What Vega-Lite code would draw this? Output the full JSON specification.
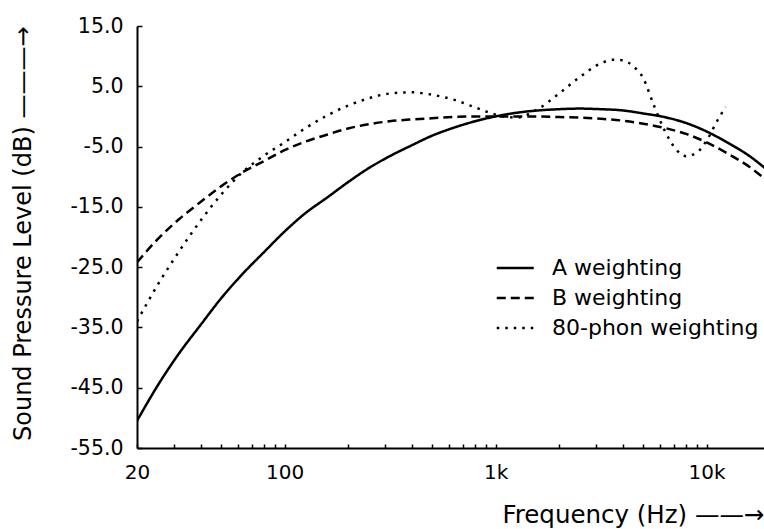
{
  "$schema": "https://vega.github.io/schema/vega-lite/v6.json",
  "width": 627,
  "height": 422,
  "autosize": {"type": "none"},
  "padding": {"left": 137, "top": 26, "right": 0, "bottom": 81},
  "background": "white",
  "config": {
    "view": {"stroke": null},
    "font": "DejaVu Sans",
    "axis": {"grid": false, "domainColor": "black", "domainWidth": 2, "tickColor": "black", "tickWidth": 1.5, "labelColor": "black", "titleColor": "black", "labelFont": "DejaVu Sans", "titleFont": "DejaVu Sans", "titleFontWeight": "normal"},
    "legend": {"padding": 0, "offset": 0}
  },
  "data": {
    "values": [
      {"curve": "A weighting", "f": 20, "db": -50.5},
      {"curve": "A weighting", "f": 25, "db": -44.7},
      {"curve": "A weighting", "f": 31.5, "db": -39.4},
      {"curve": "A weighting", "f": 40, "db": -34.6},
      {"curve": "A weighting", "f": 50, "db": -30.2},
      {"curve": "A weighting", "f": 63, "db": -26.2},
      {"curve": "A weighting", "f": 80, "db": -22.5},
      {"curve": "A weighting", "f": 100, "db": -19.1},
      {"curve": "A weighting", "f": 125, "db": -16.1},
      {"curve": "A weighting", "f": 160, "db": -13.4},
      {"curve": "A weighting", "f": 200, "db": -10.9},
      {"curve": "A weighting", "f": 250, "db": -8.6},
      {"curve": "A weighting", "f": 315, "db": -6.6},
      {"curve": "A weighting", "f": 400, "db": -4.8},
      {"curve": "A weighting", "f": 500, "db": -3.2},
      {"curve": "A weighting", "f": 630, "db": -1.9},
      {"curve": "A weighting", "f": 800, "db": -0.8},
      {"curve": "A weighting", "f": 1000, "db": 0},
      {"curve": "A weighting", "f": 1250, "db": 0.6},
      {"curve": "A weighting", "f": 1600, "db": 1.0},
      {"curve": "A weighting", "f": 2000, "db": 1.2},
      {"curve": "A weighting", "f": 2500, "db": 1.3},
      {"curve": "A weighting", "f": 3150, "db": 1.2},
      {"curve": "A weighting", "f": 4000, "db": 1.0},
      {"curve": "A weighting", "f": 5000, "db": 0.5},
      {"curve": "A weighting", "f": 6300, "db": -0.1},
      {"curve": "A weighting", "f": 8000, "db": -1.1},
      {"curve": "A weighting", "f": 10000, "db": -2.5},
      {"curve": "A weighting", "f": 12500, "db": -4.3},
      {"curve": "A weighting", "f": 16000, "db": -6.6},
      {"curve": "A weighting", "f": 20000, "db": -9.3},
      {"curve": "B weighting", "f": 20, "db": -24.2},
      {"curve": "B weighting", "f": 25, "db": -20.4},
      {"curve": "B weighting", "f": 31.5, "db": -17.1},
      {"curve": "B weighting", "f": 40, "db": -14.2},
      {"curve": "B weighting", "f": 50, "db": -11.6},
      {"curve": "B weighting", "f": 63, "db": -9.3},
      {"curve": "B weighting", "f": 80, "db": -7.4},
      {"curve": "B weighting", "f": 100, "db": -5.6},
      {"curve": "B weighting", "f": 125, "db": -4.2},
      {"curve": "B weighting", "f": 160, "db": -3.0},
      {"curve": "B weighting", "f": 200, "db": -2.0},
      {"curve": "B weighting", "f": 250, "db": -1.3},
      {"curve": "B weighting", "f": 315, "db": -0.8},
      {"curve": "B weighting", "f": 400, "db": -0.5},
      {"curve": "B weighting", "f": 500, "db": -0.3},
      {"curve": "B weighting", "f": 630, "db": -0.1},
      {"curve": "B weighting", "f": 800, "db": 0},
      {"curve": "B weighting", "f": 1000, "db": 0},
      {"curve": "B weighting", "f": 1250, "db": 0},
      {"curve": "B weighting", "f": 1600, "db": 0},
      {"curve": "B weighting", "f": 2000, "db": -0.1},
      {"curve": "B weighting", "f": 2500, "db": -0.2},
      {"curve": "B weighting", "f": 3150, "db": -0.4},
      {"curve": "B weighting", "f": 4000, "db": -0.7},
      {"curve": "B weighting", "f": 5000, "db": -1.2},
      {"curve": "B weighting", "f": 6300, "db": -1.9},
      {"curve": "B weighting", "f": 8000, "db": -2.9},
      {"curve": "B weighting", "f": 10000, "db": -4.3},
      {"curve": "B weighting", "f": 12500, "db": -6.1},
      {"curve": "B weighting", "f": 16000, "db": -8.4},
      {"curve": "B weighting", "f": 20000, "db": -11.1},
      {"curve": "80-phon weighting", "f": 20, "db": -34},
      {"curve": "80-phon weighting", "f": 25, "db": -28},
      {"curve": "80-phon weighting", "f": 31.5, "db": -22.5},
      {"curve": "80-phon weighting", "f": 40, "db": -17.3},
      {"curve": "80-phon weighting", "f": 50, "db": -13},
      {"curve": "80-phon weighting", "f": 63, "db": -9.3},
      {"curve": "80-phon weighting", "f": 80, "db": -6.5},
      {"curve": "80-phon weighting", "f": 100, "db": -4.3},
      {"curve": "80-phon weighting", "f": 125, "db": -2},
      {"curve": "80-phon weighting", "f": 160, "db": 0.2},
      {"curve": "80-phon weighting", "f": 200, "db": 1.8},
      {"curve": "80-phon weighting", "f": 250, "db": 3.0},
      {"curve": "80-phon weighting", "f": 315, "db": 3.8},
      {"curve": "80-phon weighting", "f": 400, "db": 4.0},
      {"curve": "80-phon weighting", "f": 500, "db": 3.6},
      {"curve": "80-phon weighting", "f": 630, "db": 2.8},
      {"curve": "80-phon weighting", "f": 800, "db": 1.5},
      {"curve": "80-phon weighting", "f": 1000, "db": 0.3},
      {"curve": "80-phon weighting", "f": 1250, "db": -0.2},
      {"curve": "80-phon weighting", "f": 1600, "db": 1.3},
      {"curve": "80-phon weighting", "f": 2000, "db": 3.8},
      {"curve": "80-phon weighting", "f": 2500, "db": 6.5},
      {"curve": "80-phon weighting", "f": 3150, "db": 8.8},
      {"curve": "80-phon weighting", "f": 3600, "db": 9.4},
      {"curve": "80-phon weighting", "f": 4000, "db": 9.3},
      {"curve": "80-phon weighting", "f": 4500, "db": 8.3},
      {"curve": "80-phon weighting", "f": 5000, "db": 6.4},
      {"curve": "80-phon weighting", "f": 5600, "db": 2.0},
      {"curve": "80-phon weighting", "f": 6300, "db": -2.2},
      {"curve": "80-phon weighting", "f": 7100, "db": -5.3},
      {"curve": "80-phon weighting", "f": 8000, "db": -6.6},
      {"curve": "80-phon weighting", "f": 9000, "db": -6.0},
      {"curve": "80-phon weighting", "f": 10000, "db": -4.0},
      {"curve": "80-phon weighting", "f": 11200, "db": -0.8},
      {"curve": "80-phon weighting", "f": 12300, "db": 1.6}
    ]
  },
  "mark": {"type": "line", "interpolate": "monotone", "clip": true, "color": "black", "strokeWidth": 2.5},
  "encoding": {
    "x": {
      "field": "f", "type": "quantitative",
      "scale": {"type": "log", "domain": [20, 18700], "nice": false},
      "axis": {
        "values": [20, 30, 40, 50, 60, 70, 80, 90, 100, 200, 300, 400, 500, 600, 700, 800, 900, 1000, 2000, 3000, 4000, 5000, 6000, 7000, 8000, 9000, 10000],
        "labelExpr": "datum.value == 20 ? '20' : datum.value == 100 ? '100' : datum.value == 1000 ? '1k' : datum.value == 10000 ? '10k' : ''",
        "labelOverlap": false, "labelFlush": false, "labelBound": false,
        "tickSize": -4, "labelPadding": 34, "labelBaseline": "alphabetic", "labelFontSize": 20,
        "title": "Frequency (Hz) ——→", "titleFontSize": 24.5, "titleAnchor": "end", "titleBaseline": "alphabetic", "titleY": 74
      }
    },
    "y": {
      "field": "db", "type": "quantitative",
      "scale": {"domain": [-55, 15], "nice": false, "zero": false},
      "axis": {
        "values": [-55, -45, -35, -25, -15, -5, 5, 15],
        "labelExpr": "(datum.value < 0 ? '-' : '') + format(abs(datum.value), '.1f')",
        "tickSize": -5, "labelPadding": 19, "labelFontSize": 20.5,
        "title": "Sound Pressure Level (dB) ———→", "titleFontSize": 24, "titleAnchor": "end", "titleX": -102, "titleBaseline": "bottom"
      }
    },
    "strokeDash": {
      "field": "curve", "type": "nominal",
      "scale": {"domain": ["A weighting", "B weighting", "80-phon weighting"], "range": [[1, 0], [9, 5], [2.5, 6]]},
      "legend": {
        "title": null, "orient": "none", "legendX": 358, "legendY": 231,
        "symbolType": "M-1,0H3", "symbolSize": 342, "symbolStrokeWidth": 2.5, "symbolStrokeColor": "black", "symbolFillColor": "transparent",
        "labelFont": "DejaVu Sans", "labelFontSize": 22, "labelColor": "black", "labelOffset": 35, "rowPadding": 8, "labelLimit": 400
      }
    }
  }
}
